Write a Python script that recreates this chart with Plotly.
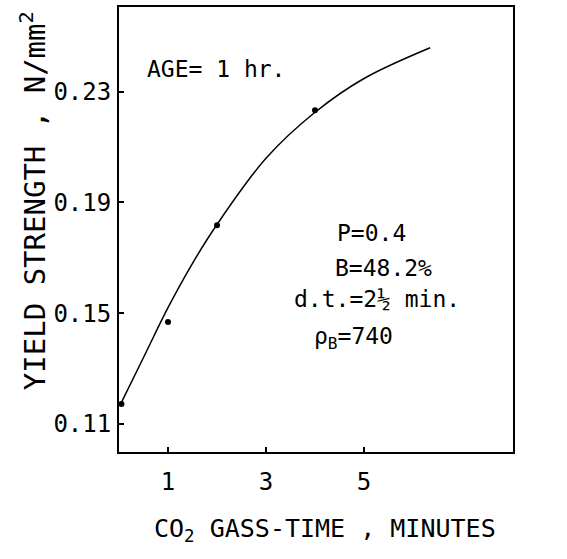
import plotly.graph_objects as go

# measured data points
pt_x = [0.05, 1.0, 2.0, 4.0]
pt_y = [0.1172, 0.1468, 0.1817, 0.2232]

# fitted curve as drawn
curve_x = [0.05, 0.5, 1.0, 1.5, 2.0, 3.0, 4.0, 5.0, 6.35]
curve_y = [0.1178, 0.134, 0.152, 0.168, 0.182, 0.2059, 0.2225, 0.2347, 0.2458]

x_ticks = [1, 3, 5]
x_ticklabels = ["1", "3", "5"]
y_ticks = [0.11, 0.15, 0.19, 0.23]
y_ticklabels = ["0.11", "0.15", "0.19", "0.23"]

FONT = "DejaVu Sans Mono"
W, H = 567, 559
L, R, T, B = 119, 513, 5, 452


def px(x):
    return (x - L) / (R - L)


def py(y):
    return (B - y) / (B - T)


fig = go.Figure()
fig.add_trace(go.Scatter(x=curve_x, y=curve_y, mode="lines",
                         line=dict(color="black", width=1.5, shape="spline"),
                         hoverinfo="skip", showlegend=False))
fig.add_trace(go.Scatter(x=pt_x, y=pt_y, mode="markers",
                         marker=dict(color="black", size=6),
                         cliponaxis=False, showlegend=False))

axis_common = dict(showline=True, linecolor="black", linewidth=2, mirror=True,
                   ticks="inside", ticklen=5, tickcolor="black", tickwidth=1.5,
                   showgrid=False, zeroline=False,
                   tickfont=dict(family=FONT, size=24, color="black"))

fig.update_xaxes(range=[0, 8.04], tickvals=x_ticks, ticktext=x_ticklabels,
                 ticklabelstandoff=7, **axis_common)
fig.update_yaxes(range=[0.0999, 0.2605], tickvals=y_ticks, ticktext=y_ticklabels,
                 ticklabelstandoff=1, **axis_common)

annots = [
    ("YIELD STRENGTH , N/mm<sup>2</sup>", 33, 200, "center", -90, 29),
    ("CO<sub>2</sub> GASS-TIME , MINUTES", 325, 530, "center", 0, 25),
    ("AGE= 1 hr.", 145, 67, "left", 0, 23),
    ("P=0.4", 335, 232, "left", 0, 23),
    ("B=48.2%", 333, 267, "left", 0, 23),
    ("d.t.=2½ min.", 292, 298, "left", 0, 23),
    ("ρ<sub>B</sub>=740", 312, 337, "left", 0, 23),
]
for text, x, y, anchor, ang, size in annots:
    fig.add_annotation(text=text, xref="paper", yref="paper", x=px(x), y=py(y),
                       xanchor=anchor, yanchor="middle", textangle=ang,
                       showarrow=False,
                       font=dict(family=FONT, size=size, color="black"))

fig.update_layout(width=W, height=H, margin=dict(l=L, r=W - R, t=T, b=H - B),
                  paper_bgcolor="white", plot_bgcolor="white",
                  font=dict(family=FONT, color="black"))

fig.write_html("out.html", config={"displayModeBar": False},
               post_script="document.body.style.margin='0';document.body.style.padding='0';")
